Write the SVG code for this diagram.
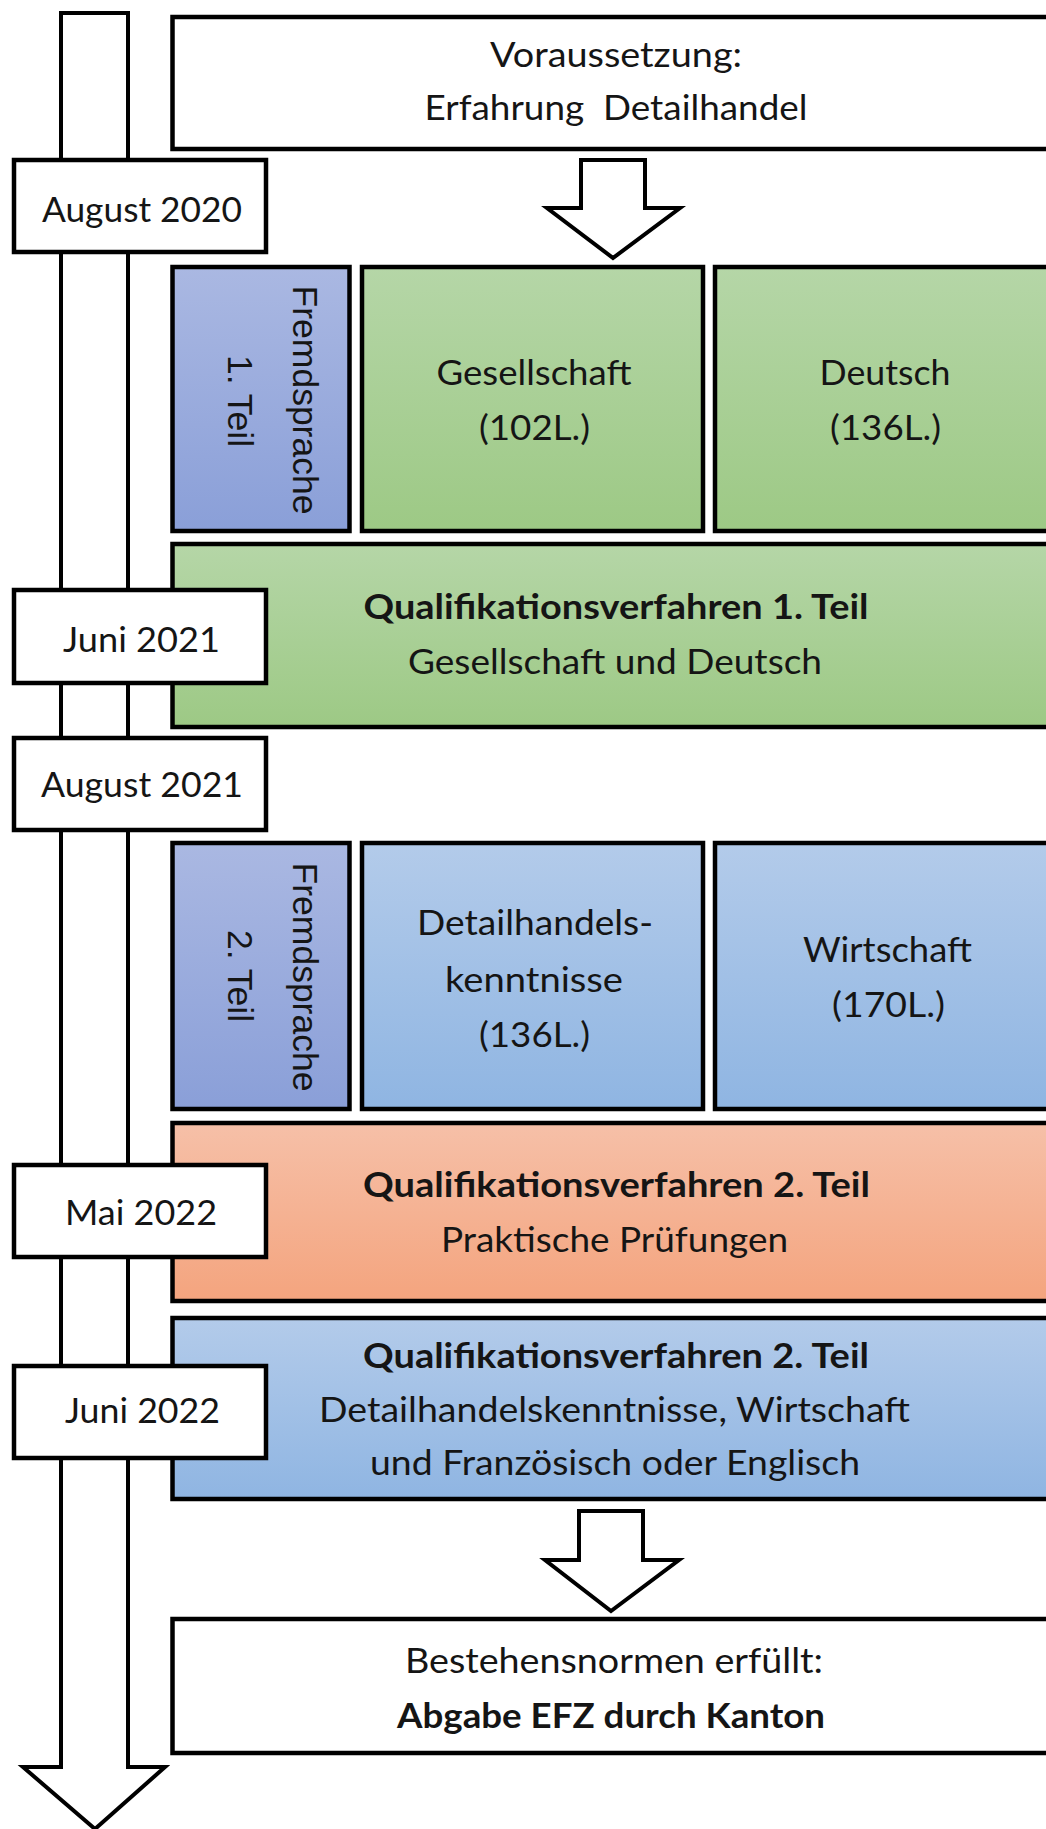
<svg xmlns="http://www.w3.org/2000/svg" width="1046" height="1829" viewBox="0 0 1046 1829">
  <style>
    .box { stroke: #000; stroke-width: 4.5; }
    .date { fill: #fff; stroke: #000; stroke-width: 4.5; }
    .arrow { fill: #fff; stroke: #000; stroke-width: 4; stroke-linejoin: miter; }
    .t { font-family: Lato, "Liberation Sans", sans-serif; font-size: 34px; fill: #151515; text-anchor: middle; white-space: pre; }
    .b { font-weight: bold; }
    .v { font-family: "Liberation Sans", Arial, sans-serif; font-size: 35.5px; fill: #151515; text-anchor: middle; }
  </style>
  <defs>
    <linearGradient id="gPurple" x1="0" y1="0" x2="0" y2="1">
      <stop offset="0" stop-color="#aab8e2"/>
      <stop offset="1" stop-color="#8a9fd8"/>
    </linearGradient>
    <linearGradient id="gGreen" x1="0" y1="0" x2="0" y2="1">
      <stop offset="0" stop-color="#b5d6a7"/>
      <stop offset="1" stop-color="#9dc985"/>
    </linearGradient>
    <linearGradient id="gBlue" x1="0" y1="0" x2="0" y2="1">
      <stop offset="0" stop-color="#b3cbea"/>
      <stop offset="1" stop-color="#8fb5e2"/>
    </linearGradient>
    <linearGradient id="gOrange" x1="0" y1="0" x2="0" y2="1">
      <stop offset="0" stop-color="#f6c0a8"/>
      <stop offset="1" stop-color="#f4a47e"/>
    </linearGradient>
  </defs>
  <rect width="1046" height="1829" fill="#fff"/>

  <g id="connectors">
    <polygon class="arrow" points="61,13 128,13 128,1767 165,1767 95,1829 23,1767 61,1767"/>
    <polygon class="arrow" points="581,160 645,160 645,208 680,208 613,258 547,208 581,208"/>
    <polygon class="arrow" points="579,1511 643,1511 643,1560 679,1560 611,1611 545,1560 579,1560"/>
  </g>

  <g id="voraussetzung">
    <rect class="box" x="172.5" y="17" width="900" height="132" fill="#fff"/>
    <text class="t" x="616" y="67" textLength="252" lengthAdjust="spacingAndGlyphs">Voraussetzung:</text>
    <text class="t" x="616" y="120" textLength="383" lengthAdjust="spacingAndGlyphs">Erfahrung  Detailhandel</text>
  </g>

  <g id="fremdsprache1">
    <rect class="box" x="172.5" y="267" width="177" height="264" fill="url(#gPurple)"/>
    <text class="v" transform="translate(293,400) rotate(90)">Fremdsprache</text>
    <text class="v" transform="translate(228,401) rotate(90)">1. Teil</text>
  </g>
  <g id="gesellschaft">
    <rect class="box" x="362" y="267" width="341" height="264" fill="url(#gGreen)"/>
    <text class="t" x="534" y="385" textLength="195" lengthAdjust="spacingAndGlyphs">Gesellschaft</text>
    <text class="t" x="534.5" y="440" textLength="111" lengthAdjust="spacingAndGlyphs">(102L.)</text>
  </g>
  <g id="deutsch">
    <rect class="box" x="715" y="267" width="360" height="264" fill="url(#gGreen)"/>
    <text class="t" x="885" y="385" textLength="131" lengthAdjust="spacingAndGlyphs">Deutsch</text>
    <text class="t" x="885.5" y="440" textLength="111" lengthAdjust="spacingAndGlyphs">(136L.)</text>
  </g>

  <g id="qv1">
    <rect class="box" x="172.5" y="544" width="900" height="183" fill="url(#gGreen)"/>
    <text class="t b" x="616" y="619" textLength="505" lengthAdjust="spacingAndGlyphs">Qualifikationsverfahren 1. Teil</text>
    <text class="t" x="615" y="674" textLength="414" lengthAdjust="spacingAndGlyphs">Gesellschaft und Deutsch</text>
  </g>

  <g id="fremdsprache2">
    <rect class="box" x="172.5" y="843" width="177" height="266" fill="url(#gPurple)"/>
    <text class="v" transform="translate(293,977) rotate(90)">Fremdsprache</text>
    <text class="v" transform="translate(228,976) rotate(90)">2. Teil</text>
  </g>
  <g id="detailhandelskenntnisse">
    <rect class="box" x="362" y="843" width="341" height="266" fill="url(#gBlue)"/>
    <text class="t" x="535" y="935" textLength="236" lengthAdjust="spacingAndGlyphs">Detailhandels-</text>
    <text class="t" x="534" y="992" textLength="178" lengthAdjust="spacingAndGlyphs">kenntnisse</text>
    <text class="t" x="534.5" y="1047" textLength="111" lengthAdjust="spacingAndGlyphs">(136L.)</text>
  </g>
  <g id="wirtschaft">
    <rect class="box" x="715" y="843" width="360" height="266" fill="url(#gBlue)"/>
    <text class="t" x="887.5" y="962" textLength="169" lengthAdjust="spacingAndGlyphs">Wirtschaft</text>
    <text class="t" x="888.5" y="1017" textLength="113" lengthAdjust="spacingAndGlyphs">(170L.)</text>
  </g>

  <g id="qv2-praktisch">
    <rect class="box" x="172.5" y="1123" width="900" height="178" fill="url(#gOrange)"/>
    <text class="t b" x="616.5" y="1197" textLength="507" lengthAdjust="spacingAndGlyphs">Qualifikationsverfahren 2. Teil</text>
    <text class="t" x="614.5" y="1252" textLength="347" lengthAdjust="spacingAndGlyphs">Praktische Prüfungen</text>
  </g>

  <g id="qv2-schulisch">
    <rect class="box" x="172.5" y="1318" width="900" height="181" fill="url(#gBlue)"/>
    <text class="t b" x="616" y="1368" textLength="506" lengthAdjust="spacingAndGlyphs">Qualifikationsverfahren 2. Teil</text>
    <text class="t" x="614.5" y="1422" textLength="591" lengthAdjust="spacingAndGlyphs">Detailhandelskenntnisse, Wirtschaft</text>
    <text class="t" x="615" y="1475" textLength="490" lengthAdjust="spacingAndGlyphs">und Französisch oder Englisch</text>
  </g>

  <g id="abschluss">
    <rect class="box" x="172.5" y="1619" width="900" height="134" fill="#fff"/>
    <text class="t" x="614" y="1673" textLength="418" lengthAdjust="spacingAndGlyphs">Bestehensnormen erfüllt:</text>
    <text class="t b" x="611" y="1728" textLength="428" lengthAdjust="spacingAndGlyphs">Abgabe EFZ durch Kanton</text>
  </g>

  <g id="date-aug2020">
    <rect class="date" x="14" y="160" width="252" height="92"/>
    <text class="t" x="142" y="222" textLength="200" lengthAdjust="spacingAndGlyphs">August 2020</text>
  </g>
  <g id="date-jun2021">
    <rect class="date" x="14" y="590" width="252" height="93"/>
    <text class="t" x="141.5" y="652" textLength="157" lengthAdjust="spacingAndGlyphs">Juni 2021</text>
  </g>
  <g id="date-aug2021">
    <rect class="date" x="14" y="738" width="252" height="92"/>
    <text class="t" x="142" y="797" textLength="202" lengthAdjust="spacingAndGlyphs">August 2021</text>
  </g>
  <g id="date-mai2022">
    <rect class="date" x="14" y="1165" width="252" height="92"/>
    <text class="t" x="141" y="1225" textLength="152" lengthAdjust="spacingAndGlyphs">Mai 2022</text>
  </g>
  <g id="date-jun2022">
    <rect class="date" x="14" y="1366" width="252" height="92"/>
    <text class="t" x="142.5" y="1423" textLength="155" lengthAdjust="spacingAndGlyphs">Juni 2022</text>
  </g>
</svg>
